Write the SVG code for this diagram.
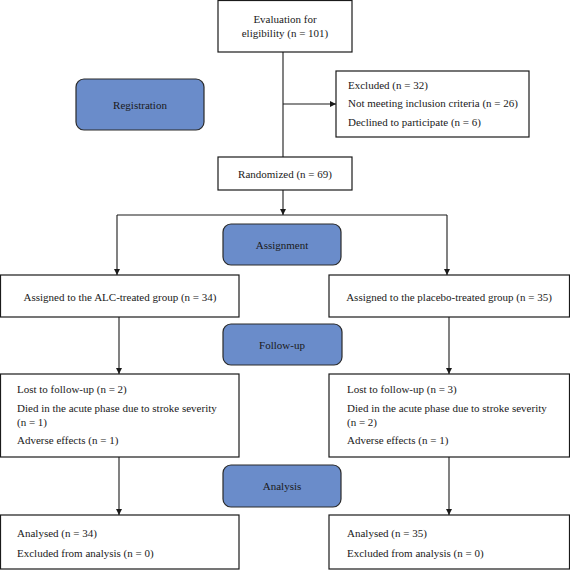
<svg xmlns="http://www.w3.org/2000/svg" width="570" height="570" viewBox="0 0 570 570" font-family="'Liberation Serif', 'Times New Roman', serif">
<style>
.box{fill:#fff;stroke:#1a1a1a;stroke-width:1.2}
.stage{fill:#6a8cca;stroke:#2a2a2a;stroke-width:1.2}
text{font-family:"Liberation Serif","Times New Roman",serif;font-size:11px;fill:#1a1a1a}
.c{text-anchor:middle}
.ln{stroke:#1a1a1a;stroke-width:1.1;fill:none}
</style>
<defs>
<marker id="ah" markerWidth="7" markerHeight="7" refX="6" refY="3.5" orient="auto" markerUnits="userSpaceOnUse">
<path d="M0,0.5 L6,3.5 L0,6.5 Z" fill="#1a1a1a"/>
</marker>
</defs>
<g id="connectors">
<line class="ln" x1="283" y1="52" x2="283" y2="157"/>
<line class="ln" x1="283" y1="104" x2="336" y2="104" marker-end="url(#ah)"/>
<line class="ln" x1="283" y1="190" x2="283" y2="215" marker-end="url(#ah)"/>
<line class="ln" x1="117" y1="215" x2="447" y2="215"/>
<line class="ln" x1="117" y1="215" x2="117" y2="275" marker-end="url(#ah)"/>
<line class="ln" x1="447" y1="215" x2="447" y2="275" marker-end="url(#ah)"/>
<line class="ln" x1="119" y1="317" x2="119" y2="374" marker-end="url(#ah)"/>
<line class="ln" x1="449" y1="317" x2="449" y2="374" marker-end="url(#ah)"/>
<line class="ln" x1="119" y1="457" x2="119" y2="515" marker-end="url(#ah)"/>
<line class="ln" x1="449" y1="457" x2="449" y2="515" marker-end="url(#ah)"/>
</g>
<g id="evaluation">
<rect class="box" x="218" y="0.5" width="134" height="51.5"/>
<text class="c" x="285" y="23">Evaluation for</text>
<text class="c" x="285" y="37">eligibility (n = 101)</text>
</g>
<g id="registration">
<rect class="stage" x="76" y="79" width="128" height="51" rx="8"/>
<text class="c" x="140" y="108.5">Registration</text>
</g>
<g id="excluded">
<rect class="box" x="336" y="71" width="193" height="66"/>
<text x="348" y="89">Excluded (n = 32)</text>
<text x="348" y="107">Not meeting inclusion criteria (n = 26)</text>
<text x="348" y="126">Declined to participate (n = 6)</text>
</g>
<g id="randomized">
<rect class="box" x="218" y="157" width="134" height="33"/>
<text class="c" x="285" y="177.5">Randomized (n = 69)</text>
</g>
<g id="assignment">
<rect class="stage" x="223" y="224" width="118" height="41" rx="8"/>
<text class="c" x="282" y="248.5">Assignment</text>
</g>
<g id="alc-group">
<rect class="box" x="0.5" y="275" width="238.5" height="42"/>
<text class="c" x="120" y="301">Assigned to the ALC-treated group (n = 34)</text>
</g>
<g id="placebo-group">
<rect class="box" x="329" y="275" width="240.5" height="42"/>
<text class="c" x="449" y="301">Assigned to the placebo-treated group (n = 35)</text>
</g>
<g id="follow-up">
<rect class="stage" x="223" y="324" width="119" height="41" rx="8"/>
<text class="c" x="282" y="348.5">Follow-up</text>
</g>
<g id="alc-followup">
<rect class="box" x="0.5" y="374" width="238.5" height="83"/>
<text x="17" y="393">Lost to follow-up (n = 2)</text>
<text x="17" y="412">Died in the acute phase due to stroke severity</text>
<text x="17" y="426">(n = 1)</text>
<text x="17" y="444">Adverse effects (n = 1)</text>
</g>
<g id="placebo-followup">
<rect class="box" x="329" y="374" width="240.5" height="83"/>
<text x="347" y="393">Lost to follow-up (n = 3)</text>
<text x="347" y="412">Died in the acute phase due to stroke severity</text>
<text x="347" y="426">(n = 2)</text>
<text x="347" y="444">Adverse effects (n = 1)</text>
</g>
<g id="analysis">
<rect class="stage" x="223" y="465" width="118" height="42" rx="8"/>
<text class="c" x="282" y="489.5">Analysis</text>
</g>
<g id="alc-analysis">
<rect class="box" x="0.5" y="515" width="238.5" height="54"/>
<text x="17" y="537">Analysed (n = 34)</text>
<text x="17" y="557">Excluded from analysis (n = 0)</text>
</g>
<g id="placebo-analysis">
<rect class="box" x="329" y="515" width="240.5" height="54"/>
<text x="347" y="537">Analysed (n = 35)</text>
<text x="347" y="557">Excluded from analysis (n = 0)</text>
</g>
</svg>
